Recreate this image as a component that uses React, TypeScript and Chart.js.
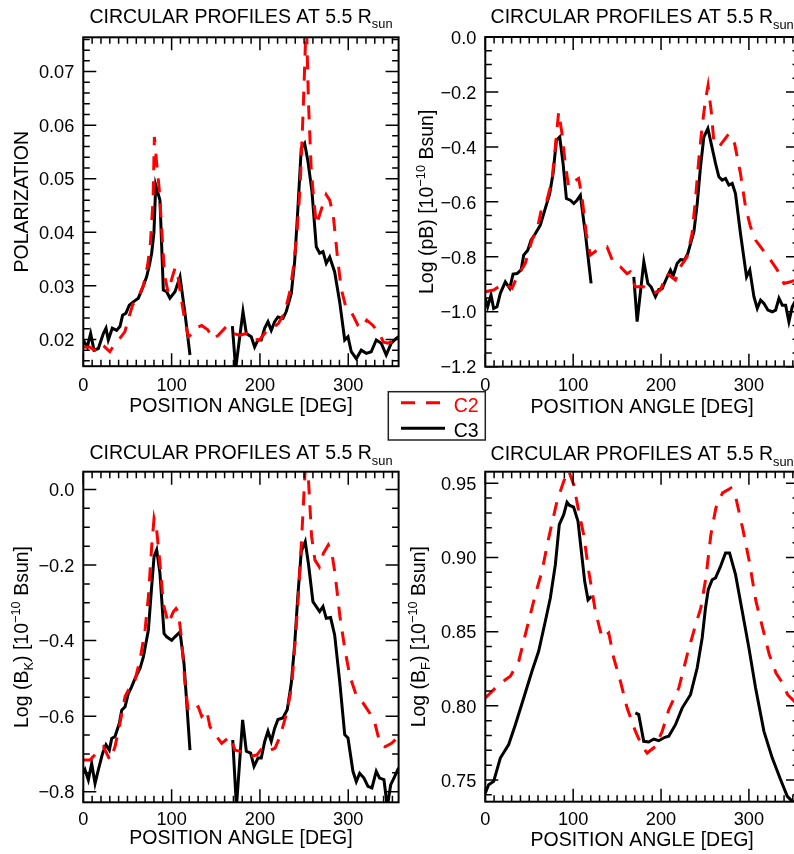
import React, { useEffect, useRef } from "react";
import { Chart, registerables } from "chart.js";

Chart.register(...registerables);

const FONT = '"Liberation Sans", Arial, Helvetica, sans-serif';
const C2_COLOR = "#ff0000";
const C3_COLOR = "#000000";
const CANVAS_W = 800;
const CANVAS_H = 854;

// Position angle axis (shared by all four panels)
const ANGLE_MAX = 357;
const angleTicks = [0, 100, 200, 300];
const angleTickLabels = ["0", "100", "200", "300"];
const ANGLE_MINOR_STEP = 10;

// ---------- Panel 1: polarization ----------
const polC2Angle = [0, 7, 13, 18, 23, 30, 35, 40, 47, 51, 56, 62, 68, 73, 76, 79, 80.5, 83, 86, 89, 92, 96, 100, 104, 107, 111, 115, 119, 123, 128, 134, 141, 147, 153, 162, 170, 177, 185, 192, 200, 208, 215, 221, 228, 234, 238, 242, 245.5, 249, 252.5, 255, 258, 261, 264, 269, 275, 279, 283, 288, 292, 297, 302, 306, 311, 315, 321, 328, 334, 340, 345, 349, 353, 357];
const polC2 = [0.0186, 0.0186, 0.018, 0.0192, 0.0188, 0.0177, 0.019, 0.0199, 0.0214, 0.0238, 0.0265, 0.0278, 0.03, 0.034, 0.038, 0.046, 0.0578, 0.053, 0.048, 0.04, 0.032, 0.0288, 0.0312, 0.0334, 0.032, 0.0275, 0.0235, 0.0205, 0.021, 0.0222, 0.0226, 0.0218, 0.0201, 0.0208, 0.0224, 0.0211, 0.0208, 0.0211, 0.0199, 0.02, 0.0217, 0.0222, 0.023, 0.025, 0.029, 0.0336, 0.04, 0.0485, 0.063, 0.08, 0.064, 0.052, 0.046, 0.0414, 0.044, 0.047, 0.046, 0.0432, 0.035, 0.0295, 0.0262, 0.0255, 0.0243, 0.0226, 0.0221, 0.0236, 0.0226, 0.0214, 0.0195, 0.0193, 0.0196, 0.0208, 0.02];
const polC3Angle = [0, 4.5, 8.3, 12.1, 17, 22.7, 25.7, 28.3, 32.8, 37.7, 41.5, 44.5, 48.3, 52.1, 56.6, 62.3, 66.1, 71.7, 75, 77.4, 80, 82, 86.8, 90.6, 94.4, 98.1, 103.8, 109.5, 115.1, 120.8, 145, 168.8, 172.5, 180.8, 184.6, 190.2, 194, 197.8, 201.5, 205.4, 209.1, 212.8, 216.7, 220.4, 226, 229.8, 235.5, 239.3, 243, 246.8, 250.6, 254.4, 258.9, 263.8, 267.6, 271.4, 275.1, 279, 284.6, 290.3, 296, 299.7, 303.4, 309.1, 314.7, 320.4, 326, 331.7, 337.3, 343, 348.7, 354.3, 357];
const polC3 = [0.0199, 0.0186, 0.0211, 0.018, 0.0183, 0.0211, 0.0221, 0.0199, 0.0221, 0.0217, 0.0224, 0.0245, 0.0249, 0.0264, 0.027, 0.0277, 0.0292, 0.0317, 0.034, 0.0361, 0.04, 0.0488, 0.046, 0.0292, 0.0289, 0.0277, 0.0289, 0.0317, 0.0249, 0.0171, null, 0.0225, 0.0145, 0.0252, 0.0211, 0.0205, 0.0186, 0.0199, 0.0199, 0.0221, 0.0233, 0.0217, 0.0233, 0.0242, 0.0239, 0.0252, 0.0286, 0.0345, 0.0445, 0.0557, 0.0566, 0.0532, 0.0476, 0.0373, 0.0361, 0.0364, 0.0342, 0.0354, 0.0326, 0.027, 0.0199, 0.0205, 0.0177, 0.0164, 0.018, 0.0174, 0.0177, 0.0199, 0.0193, 0.0171, 0.0193, 0.0202, 0.0205];
const polTicks = [0.02, 0.03, 0.04, 0.05, 0.06, 0.07];
const polTickLabels = ["0.02", "0.03", "0.04", "0.05", "0.06", "0.07"];

// ---------- Panel 2: log pB ----------
const pbC2Angle = [0, 9.5, 20.9, 30.4, 36.1, 45.5, 53.1, 58.8, 64.5, 70.2, 75.9, 79.7, 83.5, 87.3, 91, 94.8, 100.5, 106.2, 110, 114.9, 119.5, 127.1, 138.5, 146, 153.6, 161.2, 165, 170.7, 180.2, 191.6, 199.2, 206.8, 216.3, 222, 229.6, 235.3, 239.1, 242.9, 246.7, 250.5, 253.5, 257, 260, 265.8, 271.5, 277.2, 283.7, 290.4, 296.1, 301.8, 307.5, 313.3, 319, 324.7, 332.3, 339.9, 347.5, 357];
const pbC2 = [-0.927, -0.921, -0.897, -0.915, -0.873, -0.824, -0.739, -0.703, -0.618, -0.594, -0.521, -0.4, -0.273, -0.352, -0.46, -0.545, -0.527, -0.515, -0.582, -0.715, -0.794, -0.776, -0.764, -0.824, -0.836, -0.861, -0.855, -0.909, -0.909, -0.933, -0.921, -0.861, -0.885, -0.836, -0.8, -0.715, -0.594, -0.448, -0.327, -0.23, -0.176, -0.267, -0.376, -0.4, -0.376, -0.352, -0.388, -0.497, -0.618, -0.691, -0.739, -0.764, -0.788, -0.812, -0.848, -0.897, -0.891, -0.88];
const pbC3Angle = [0, 2.7, 6.5, 9.5, 13.3, 17.1, 22.8, 27.8, 31.6, 36.1, 40.7, 43.7, 48.3, 52.1, 57, 62.6, 68.3, 73.3, 77.1, 80.9, 84.7, 88.5, 92.3, 96.8, 100.7, 104.4, 108.2, 113.9, 120.4, 145, 169, 172.8, 180.4, 185, 188.8, 193.6, 197.4, 201.2, 206.2, 210.7, 213.8, 218.3, 222.2, 226.7, 230.5, 233.6, 237.4, 241.2, 244.9, 248.7, 253.3, 257.1, 262, 265.8, 269.6, 273.4, 277.2, 281, 284.7, 290.4, 297.3, 301, 305.7, 309.5, 313.3, 317.1, 321.6, 326.6, 330.4, 334.2, 338, 341.8, 345.5, 349.3, 353, 357];
const pbC3 = [-0.951, -0.982, -0.939, -0.988, -0.982, -0.933, -0.891, -0.915, -0.863, -0.861, -0.848, -0.794, -0.776, -0.739, -0.715, -0.685, -0.624, -0.57, -0.497, -0.376, -0.364, -0.46, -0.588, -0.594, -0.606, -0.594, -0.576, -0.715, -0.897, null, -0.873, -1.036, -0.818, -0.897, -0.91, -0.945, -0.919, -0.916, -0.879, -0.848, -0.87, -0.824, -0.81, -0.812, -0.788, -0.752, -0.709, -0.606, -0.473, -0.364, -0.333, -0.388, -0.46, -0.509, -0.521, -0.515, -0.539, -0.533, -0.57, -0.715, -0.873, -0.848, -0.945, -0.988, -0.958, -0.97, -0.994, -1.0, -0.994, -0.951, -0.976, -0.976, -1.036, -0.982, -0.96, -0.95];
const pbTicks = [0, -0.2, -0.4, -0.6, -0.8, -1.0, -1.2];
const pbTickLabels = ["0.0", "\u22120.2", "\u22120.4", "\u22120.6", "\u22120.8", "\u22121.0", "\u22121.2"];

// ---------- Panel 3: log B_K ----------
const bkC2Angle = [0, 7.6, 14, 22.7, 30.2, 35.9, 41.5, 47.3, 52.9, 58.6, 64.2, 69.9, 73.7, 77.4, 80.1, 83.1, 86.8, 90.6, 96.3, 101.9, 105, 107.6, 111.4, 115.1, 118.9, 124.5, 130.2, 134, 139.7, 143.4, 151, 156.7, 166.1, 171.8, 179.3, 186.8, 196.3, 203.8, 211.4, 217, 222.7, 230.2, 235.9, 239.7, 243.5, 247.3, 251, 253.5, 256, 258.5, 262.3, 267.2, 271.8, 277.4, 281.2, 285, 290.6, 296.3, 302, 309.5, 317, 324.6, 330.2, 335.9, 341.6, 349, 354.8, 357];
const bkC2 = [-0.716, -0.716, -0.7, -0.681, -0.716, -0.681, -0.619, -0.548, -0.522, -0.504, -0.451, -0.372, -0.284, -0.152, -0.077, -0.108, -0.196, -0.302, -0.355, -0.324, -0.315, -0.324, -0.399, -0.513, -0.588, -0.584, -0.575, -0.6, -0.584, -0.628, -0.654, -0.672, -0.654, -0.69, -0.694, -0.707, -0.703, -0.681, -0.69, -0.685, -0.654, -0.593, -0.522, -0.407, -0.284, -0.125, 0.042, 0.09, -0.019, -0.125, -0.187, -0.205, -0.169, -0.147, -0.165, -0.222, -0.337, -0.425, -0.496, -0.548, -0.566, -0.593, -0.619, -0.672, -0.681, -0.672, -0.659, -0.655];
const bkC3Angle = [0, 1.9, 5.7, 9.5, 13.3, 17, 21.9, 25.7, 29.5, 32.2, 35.9, 40.8, 43.5, 47.3, 51, 54.8, 58.6, 64.2, 68, 73.7, 77, 80.1, 83.1, 86.8, 91.4, 94.4, 100.1, 103.8, 109.5, 114, 120.8, 145, 169.2, 173.4, 180.4, 184.6, 189.5, 193.3, 197.8, 201.5, 205.4, 209.1, 212.8, 216.7, 220.4, 226, 230.9, 235.5, 239.3, 243, 246.8, 251.3, 255.1, 260, 263.8, 267.6, 271.4, 275.1, 280, 284.6, 290.3, 296, 299.7, 305.3, 309.1, 312.9, 317.8, 322.3, 326.8, 331.7, 335.5, 340.4, 344.2, 348, 352.5, 357];
const bkC3 = [-0.751, -0.742, -0.769, -0.725, -0.778, -0.742, -0.698, -0.676, -0.69, -0.659, -0.654, -0.619, -0.584, -0.575, -0.54, -0.522, -0.5, -0.474, -0.443, -0.372, -0.27, -0.178, -0.16, -0.222, -0.381, -0.39, -0.399, -0.39, -0.377, -0.46, -0.69, null, -0.663, -0.84, -0.61, -0.693, -0.698, -0.733, -0.711, -0.711, -0.667, -0.64, -0.667, -0.632, -0.609, -0.605, -0.583, -0.513, -0.411, -0.279, -0.164, -0.138, -0.2, -0.297, -0.31, -0.323, -0.31, -0.341, -0.339, -0.385, -0.508, -0.649, -0.658, -0.746, -0.773, -0.751, -0.764, -0.786, -0.79, -0.746, -0.764, -0.768, -0.84, -0.782, -0.76, -0.737];
const bkTicks = [0, -0.2, -0.4, -0.6, -0.8];
const bkTickLabels = ["0.0", "\u22120.2", "\u22120.4", "\u22120.6", "\u22120.8"];

// ---------- Panel 4: log B_F ----------
const bfC2Angle = [0, 11.4, 22.8, 28.5, 38, 45.5, 56.9, 64.5, 72.1, 81.6, 89.2, 94.9, 100.6, 106.3, 112, 117.7, 125.3, 132.9, 140.5, 146.2, 153.8, 161.4, 170.9, 178.5, 184.2, 193.7, 201.3, 208.8, 220.2, 230, 240, 245.3, 251, 256.7, 262.4, 270, 279.5, 285.2, 292.8, 300.4, 308, 315.6, 323.2, 330.8, 336.5, 344.1, 351.7, 357];
const bfC2 = [0.8053, 0.812, 0.8176, 0.8199, 0.83, 0.848, 0.8749, 0.8907, 0.9131, 0.9379, 0.9513, 0.9585, 0.949, 0.9311, 0.9153, 0.8907, 0.8637, 0.8457, 0.8491, 0.8322, 0.8165, 0.7985, 0.7828, 0.7727, 0.7682, 0.7727, 0.7828, 0.7974, 0.812, 0.835, 0.856, 0.866, 0.8862, 0.9153, 0.9334, 0.9435, 0.9468, 0.9401, 0.9199, 0.8974, 0.8705, 0.8525, 0.8345, 0.8221, 0.817, 0.8075, 0.803, 0.8];
const bfC3Angle = [0, 3.8, 9.5, 17.1, 26.6, 34.2, 43.7, 53.1, 60.7, 68.3, 74, 79.7, 84.2, 89.2, 93, 95.6, 100.5, 105.5, 109.3, 113.1, 116.9, 120.7, 145, 170.8, 174.6, 180.3, 186, 191.7, 197.4, 204.3, 208.8, 216.4, 224, 233.5, 241.1, 246.8, 250.6, 253.7, 258.2, 262, 267.7, 273.4, 278, 284.8, 292.4, 300, 307.6, 317.1, 326.6, 336.1, 343.7, 349.4, 357];
const bfC3 = [0.7412, 0.7468, 0.7491, 0.7648, 0.7739, 0.7873, 0.8053, 0.8233, 0.8368, 0.857, 0.8727, 0.8951, 0.9221, 0.9288, 0.9372, 0.9352, 0.934, 0.9244, 0.9042, 0.8839, 0.8715, 0.8738, null, 0.7952, 0.7941, 0.7761, 0.7756, 0.7776, 0.7765, 0.7788, 0.7795, 0.7873, 0.7985, 0.8075, 0.8255, 0.8457, 0.866, 0.8783, 0.885, 0.8862, 0.894, 0.903, 0.903, 0.8884, 0.8637, 0.839, 0.812, 0.7828, 0.7648, 0.7502, 0.739, 0.7356, 0.733];
const bfTicks = [0.75, 0.8, 0.85, 0.9, 0.95];
const bfTickLabels = ["0.75", "0.80", "0.85", "0.90", "0.95"];

type Run = { t: string; size: number; dy?: number };

interface Panel {
  frame: { left: number; top: number; right: number; bottom: number };
  yMin: number;
  yMax: number;
  yTicks: number[];
  yTickLabels: string[];
  yMinorStep: number;
  c2Angle: number[];
  c2: (number | null)[];
  c3Angle: number[];
  c3: (number | null)[];
  yTitle: Run[];
  titleBase: number;
  xTickBase: number;
  xTitleBase: number;
  yTitleBase: number;
}

const TEXT = 19.5;
const TICK = 18.2;
const SMALL = 12.8;
const titleRuns: Run[] = [
  { t: "CIRCULAR PROFILES AT 5.5 R", size: TEXT },
  { t: "sun", size: SMALL, dy: 5.5 },
];
const bsunTitle = (sub: string | null): Run[] => {
  const head: Run[] = sub
    ? [
        { t: "Log (B", size: TEXT },
        { t: sub, size: SMALL, dy: 5 },
        { t: ") [10", size: TEXT },
      ]
    : [{ t: "Log (pB) [10", size: TEXT }];
  return [...head, { t: "\u221210", size: SMALL, dy: -8 }, { t: " Bsun]", size: TEXT }];
};

const panels: Panel[] = [
  {
    frame: { left: 83.3, top: 37.3, right: 398.6, bottom: 366.2 },
    yMin: 0.015, yMax: 0.0764, yTicks: polTicks, yTickLabels: polTickLabels, yMinorStep: 0.002,
    c2Angle: polC2Angle, c2: polC2, c3Angle: polC3Angle, c3: polC3,
    yTitle: [{ t: "POLARIZATION", size: TEXT }],
    titleBase: 22.7, xTickBase: 390.7, xTitleBase: 411.7, yTitleBase: 28.3,
  },
  {
    frame: { left: 485.3, top: 37.0, right: 799, bottom: 366.7 },
    yMin: -1.2, yMax: 0.0, yTicks: pbTicks, yTickLabels: pbTickLabels, yMinorStep: 0.05,
    c2Angle: pbC2Angle, c2: pbC2, c3Angle: pbC3Angle, c3: pbC3,
    yTitle: bsunTitle(null),
    titleBase: 23.3, xTickBase: 390.5, xTitleBase: 412.5, yTitleBase: 432.5,
  },
  {
    frame: { left: 83.3, top: 471.7, right: 398.6, bottom: 802.3 },
    yMin: -0.828, yMax: 0.047, yTicks: bkTicks, yTickLabels: bkTickLabels, yMinorStep: 0.05,
    c2Angle: bkC2Angle, c2: bkC2, c3Angle: bkC3Angle, c3: bkC3,
    yTitle: bsunTitle("K"),
    titleBase: 459.3, xTickBase: 825, xTitleBase: 844, yTitleBase: 27.5,
  },
  {
    frame: { left: 485.3, top: 471.7, right: 799, bottom: 801.7 },
    yMin: 0.7354, yMax: 0.9578, yTicks: bfTicks, yTickLabels: bfTickLabels, yMinorStep: 0.01,
    c2Angle: bfC2Angle, c2: bfC2, c3Angle: bfC3Angle, c3: bfC3,
    yTitle: bsunTitle("F"),
    titleBase: 460, xTickBase: 825, xTitleBase: 846, yTitleBase: 424.5,
  },
];

function drawRuns(ctx: CanvasRenderingContext2D, runs: Run[], x: number, y: number) {
  const widths = runs.map((r) => {
    ctx.font = `${r.size}px ${FONT}`;
    return ctx.measureText(r.t).width;
  });
  const total = widths.reduce((a, b) => a + b, 0);
  let cx = x - total / 2;
  ctx.textAlign = "left";
  ctx.textBaseline = "alphabetic";
  runs.forEach((r, i) => {
    ctx.font = `${r.size}px ${FONT}`;
    ctx.fillText(r.t, cx, y + (r.dy || 0));
    cx += widths[i];
  });
}

function framePlugin(p: Panel) {
  return {
    id: "idlFrame",
    afterDatasetsDraw(chart: any) {
      const ctx: CanvasRenderingContext2D = chart.ctx;
      const { left, top, right, bottom } = chart.chartArea;
      const xs = chart.scales.x;
      const ys = chart.scales.y;
      const MAJOR = 13;
      const MINOR = 6.5;
      ctx.save();
      ctx.strokeStyle = "#000";
      ctx.fillStyle = "#000";

      // inward tick marks on all four sides
      ctx.lineWidth = 1.5;
      ctx.beginPath();
      for (let k = 0; k * ANGLE_MINOR_STEP <= ANGLE_MAX; k++) {
        const v = k * ANGLE_MINOR_STEP;
        const len = angleTicks.includes(v) ? MAJOR : MINOR;
        const px = xs.getPixelForValue(v);
        ctx.moveTo(px, bottom);
        ctx.lineTo(px, bottom - len);
        ctx.moveTo(px, top);
        ctx.lineTo(px, top + len);
      }
      const n0 = Math.ceil(p.yMin / p.yMinorStep - 1e-6);
      const n1 = Math.floor(p.yMax / p.yMinorStep + 1e-6);
      for (let k = n0; k <= n1; k++) {
        const v = k * p.yMinorStep;
        const isMajor = p.yTicks.some((t) => Math.abs(t - v) < p.yMinorStep * 0.01);
        const len = isMajor ? MAJOR : MINOR;
        const py = ys.getPixelForValue(v);
        ctx.moveTo(left, py);
        ctx.lineTo(left + len, py);
        ctx.moveTo(right, py);
        ctx.lineTo(right - len, py);
      }
      ctx.stroke();

      // plot frame
      ctx.lineWidth = 2;
      ctx.strokeRect(left, top, right - left, bottom - top);

      // y tick labels
      ctx.font = `${TICK}px ${FONT}`;
      ctx.textAlign = "right";
      ctx.textBaseline = "alphabetic";
      p.yTicks.forEach((v, i) => {
        const py = ys.getPixelForValue(v);
        ctx.fillText(p.yTickLabels[i], left - 9, py + TICK * 0.37);
      });

      // x tick labels
      ctx.textAlign = "center";
      angleTicks.forEach((v, i) => {
        ctx.fillText(angleTickLabels[i], xs.getPixelForValue(v), p.xTickBase);
      });

      const cxMid = (left + right) / 2;
      drawRuns(ctx, titleRuns, cxMid, p.titleBase);
      drawRuns(ctx, [{ t: "POSITION ANGLE [DEG]", size: TEXT }], cxMid, p.xTitleBase);

      // rotated y-axis title
      ctx.save();
      ctx.translate(p.yTitleBase, (top + bottom) / 2);
      ctx.rotate(-Math.PI / 2);
      drawRuns(ctx, p.yTitle, 0, 0);
      ctx.restore();

      ctx.restore();
    },
  };
}

function PanelChart({ p }: { p: Panel }) {
  const ref = useRef<HTMLCanvasElement>(null);
  useEffect(() => {
    const canvas = ref.current;
    if (!canvas) return;
    const lineStyle = {
      borderWidth: 3,
      pointRadius: 0,
      tension: 0,
      fill: false,
      clip: 0,
      borderJoinStyle: "miter" as const,
      borderCapStyle: "butt" as const,
      spanGaps: false,
    };
    const chart = new Chart(canvas, {
      type: "line",
      data: {
        datasets: [
          {
            label: "C2",
            data: p.c2Angle.map((a, i) => ({ x: a, y: p.c2[i] })),
            borderColor: C2_COLOR,
            borderDash: [14, 11],
            ...lineStyle,
          },
          {
            label: "C3",
            data: p.c3Angle.map((a, i) => ({ x: a, y: p.c3[i] })),
            borderColor: C3_COLOR,
            ...lineStyle,
          },
        ],
      },
      options: {
        responsive: false,
        animation: false,
        events: [],
        layout: {
          padding: {
            left: p.frame.left,
            top: p.frame.top,
            right: CANVAS_W - p.frame.right,
            bottom: CANVAS_H - p.frame.bottom,
          },
        },
        plugins: {
          legend: { display: false },
          tooltip: { enabled: false },
          title: { display: false },
        },
        scales: {
          x: { type: "linear", display: false, min: 0, max: ANGLE_MAX },
          y: { type: "linear", display: false, min: p.yMin, max: p.yMax },
        },
      },
      plugins: [framePlugin(p)],
    } as any);
    return () => chart.destroy();
  }, [p]);
  return (
    <canvas
      ref={ref}
      width={CANVAS_W}
      height={CANVAS_H}
      style={{ position: "absolute", left: 0, top: 0, width: CANVAS_W, height: CANVAS_H }}
    />
  );
}

function LegendBox() {
  const ref = useRef<HTMLCanvasElement>(null);
  useEffect(() => {
    const canvas = ref.current;
    if (!canvas) return;
    const ctx = canvas.getContext("2d");
    if (!ctx) return;
    ctx.clearRect(0, 0, canvas.width, canvas.height);
    ctx.fillStyle = "#fff";
    ctx.fillRect(8.3, 6.7, 97, 48.3);
    ctx.strokeStyle = "#222";
    ctx.lineWidth = 1.5;
    ctx.strokeRect(8.3, 6.7, 97, 48.3);
    ctx.lineWidth = 3;
    ctx.strokeStyle = C2_COLOR;
    ctx.setLineDash([14, 11]);
    ctx.beginPath();
    ctx.moveTo(21, 17.7);
    ctx.lineTo(62, 17.7);
    ctx.stroke();
    ctx.setLineDash([]);
    ctx.strokeStyle = C3_COLOR;
    ctx.beginPath();
    ctx.moveTo(21, 43.3);
    ctx.lineTo(65, 43.3);
    ctx.stroke();
    ctx.font = `${TEXT}px ${FONT}`;
    ctx.textAlign = "left";
    ctx.textBaseline = "alphabetic";
    ctx.fillStyle = C2_COLOR;
    ctx.fillText("C2", 73.7, 26.7);
    ctx.fillStyle = C3_COLOR;
    ctx.fillText("C3", 73.7, 52.3);
  }, []);
  return (
    <canvas
      ref={ref}
      width={120}
      height={62}
      style={{ position: "absolute", left: 380, top: 385, width: 120, height: 62 }}
    />
  );
}

export default function App() {
  return (
    <div
      style={{
        position: "fixed",
        left: 0,
        top: 0,
        width: 794,
        height: 854,
        overflow: "hidden",
        background: "#fff",
      }}
    >
      {panels.map((p, i) => (
        <PanelChart key={i} p={p} />
      ))}
      <LegendBox />
    </div>
  );
}
